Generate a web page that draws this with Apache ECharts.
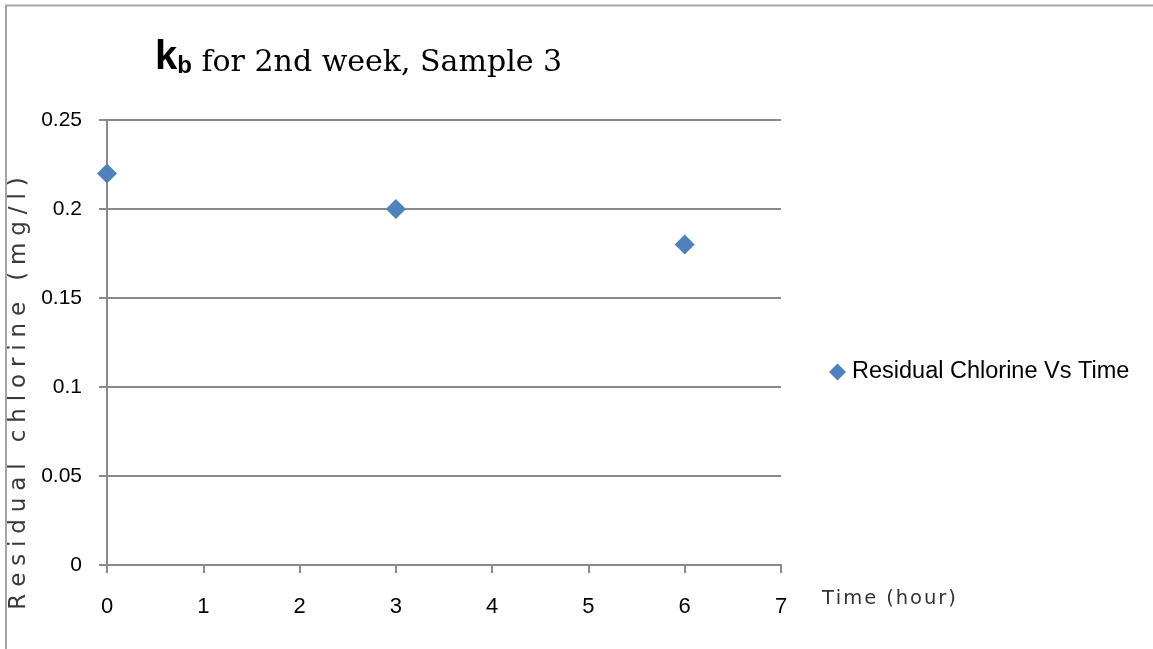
<!DOCTYPE html>
<html>
<head>
<meta charset="utf-8">
<script src="https://cdn.jsdelivr.net/npm/echarts@6/dist/echarts.min.js"></script>
<style>
    html, body { margin: 0; padding: 0; background: #fff; }
    #chart { width: 1153px; height: 649px; }
</style>
</head>
<body>
<div id="chart"></div>
<script>
// 数据
var timeHours = [0, 3, 6];
var residualChlorine = [0.22, 0.2, 0.18];
var seriesName = 'Residual Chlorine Vs Time';
var yAxisName = 'Residual chlorine (mg/l)';
var xAxisName = 'Time (hour)';

// 字间距（echarts没有letterSpacing，用细空格代替）
function spaced(s, sp) {
    return s.split('').join(sp);
}

var points = timeHours.map(function (t, i) {
    return [t, residualChlorine[i]];
});

var axisGray = '#8a8a8a';

var option = {
    backgroundColor: '#fff',
    animation: false,
    title: {
        text: '{k|k}{b|b}{t| for 2nd week, Sample 3}',
        left: 150,
        top: 29,
        textStyle: {
            rich: {
                k: {
                    fontFamily: 'Liberation Sans',
                    fontWeight: 'bold',
                    fontSize: 40,
                    color: '#000',
                    lineHeight: 44,
                    verticalAlign: 'bottom'
                },
                b: {
                    fontFamily: 'Liberation Sans',
                    fontWeight: 'bold',
                    fontSize: 24,
                    color: '#000',
                    lineHeight: 2,
                    verticalAlign: 'bottom'
                },
                t: {
                    fontFamily: 'DejaVu Serif',
                    fontWeight: 'normal',
                    fontSize: 30,
                    color: '#000',
                    lineHeight: 44,
                    verticalAlign: 'bottom'
                }
            }
        }
    },
    legend: {
        data: [seriesName],
        left: 824,
        top: 355,
        icon: 'diamond',
        itemWidth: 17,
        itemHeight: 17,
        textStyle: {
            fontFamily: 'Liberation Sans',
            fontSize: 23.5,
            color: '#000',
            padding: [0, 0, 0, 1]
        }
    },
    grid: {
        left: 107,
        top: 120,
        width: 674,
        height: 445,
        outerBoundsMode: 'none',
        containLabel: false
    },
    xAxis: {
        type: 'value',
        min: 0,
        max: 7,
        interval: 1,
        name: spaced(xAxisName, '\u200A'),
        nameLocation: 'end',
        nameGap: 41,
        nameTextStyle: {
            fontFamily: 'DejaVu Sans',
            fontSize: 19.5,
            color: '#333',
            verticalAlign: 'top',
            align: 'left',
            padding: [24, 0, 0, 0]
        },
        axisLine: { show: true, lineStyle: { color: axisGray, width: 2 } },
        axisTick: { show: true, length: 8, lineStyle: { color: axisGray, width: 2 } },
        axisLabel: {
            margin: 31,
            fontFamily: 'Liberation Sans',
            fontSize: 22,
            color: '#000'
        },
        splitLine: { show: false }
    },
    yAxis: {
        type: 'value',
        min: 0,
        max: 0.25,
        interval: 0.05,
        name: spaced(yAxisName, '\u2009\u200A'),
        nameLocation: 'middle',
        nameGap: 74,
        nameRotate: 90,
        nameTextStyle: {
            fontFamily: 'DejaVu Sans',
            fontSize: 23,
            color: '#3a3a3a',
            padding: [0, 102, 0, 0]
        },
        axisLine: { show: true, lineStyle: { color: axisGray, width: 2 } },
        axisTick: { show: true, length: 8, lineStyle: { color: axisGray, width: 2 } },
        axisLabel: {
            margin: 25,
            fontFamily: 'Liberation Sans',
            fontSize: 21,
            color: '#000'
        },
        splitLine: { show: true, lineStyle: { color: axisGray, width: 2 } }
    },
    graphic: [
        {
            type: 'polyline',
            shape: { points: [[6, 649], [6, 5.5], [1153, 5.5]] },
            style: { stroke: '#a6a6a6', lineWidth: 2, fill: null },
            silent: true
        }
    ],
    series: [
        {
            name: seriesName,
            type: 'scatter',
            symbol: 'diamond',
            symbolSize: 20,
            itemStyle: { color: '#4F81BD', opacity: 1 },
            data: points
        }
    ]
};

var mychart = echarts.init(document.getElementById('chart'));
mychart.setOption(option);
window.addEventListener('resize', function () {
    mychart.resize();
});
</script>
</body>
</html>
